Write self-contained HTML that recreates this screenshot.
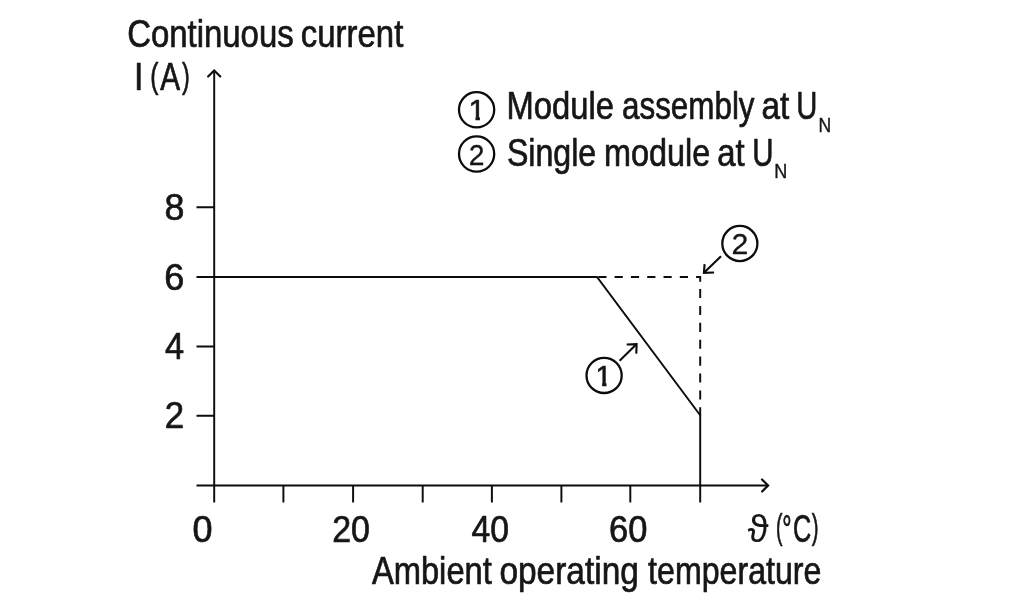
<!DOCTYPE html>
<html lang="en">
<head>
<meta charset="utf-8">
<title>Derating curve – Continuous current vs. ambient operating temperature</title>
<style>
  html, body { margin: 0; padding: 0; background: #ffffff; }
  body { width: 1024px; height: 608px; overflow: hidden; }
  svg { display: block; will-change: transform; }
  text { font-family: "Liberation Sans", sans-serif; fill: #161616; stroke: #161616; stroke-width: 0.7px; stroke-linejoin: round; }
  .ln { stroke: #0c0c0c; stroke-width: 1.95; fill: none; }
  .ah { stroke: #0c0c0c; stroke-width: 2.15; fill: none; stroke-linecap: round; stroke-linejoin: miter; }
  .ar { stroke: #0c0c0c; stroke-width: 2.1; fill: none; }
  .circ { stroke: #0c0c0c; stroke-width: 2.3; fill: none; }
  .t { font-size: 38.4px; }
  .d { font-size: 37.6px; }
  .p { font-size: 34.9px; }
  .c { font-size: 29px; stroke-width: 0.3px; }
  .c1 { font-size: 29.5px; stroke-width: 0.6px; }
  .th { stroke-width: 0.1px; }
  .s { font-size: 20.2px; stroke-width: 0.4px; }
</style>
</head>
<body>
<svg width="1024" height="608" viewBox="0 0 1024 608">
  <rect x="0" y="0" width="1024" height="608" fill="#ffffff"/>

  <defs>
    <clipPath id="one14"><path d="M467.2 94.1 H479.9 V122.1 H475.5 V117.0 H467.2 Z"/></clipPath>
    <clipPath id="one17"><path d="M594.1 359.9 H606.5 V387.9 H602.1 V382.8 H594.1 Z"/></clipPath>
  </defs>

  <g id="gfx">
  <!-- legend circles -->
  <circle class="circ" cx="476.6" cy="109.8" r="17.6"/>
  <circle class="circ" cx="476.6" cy="154" r="17.6"/>

  <!-- y axis with arrow -->
  <path class="ln" d="M214.2 70.5 V502.5"/>
  <path class="ah" d="M208.1 76.5 L214.2 70.4 L220.3 76.4"/>
  <!-- x axis with arrow -->
  <path class="ln" d="M196.5 485.45 H768.2"/>
  <path class="ah" d="M762 479.4 L768.1 485.45 L762.1 491.5"/>

  <!-- y ticks -->
  <path class="ln" d="M196.5 207.3 H214.2 M196.5 346.4 H214.2 M196.5 415.8 H214.2"/>
  <!-- x ticks -->
  <path class="ln" d="M283.4 485.5 V502.5 M353.1 485.5 V502.5 M422.7 485.5 V502.5 M491.9 485.5 V502.5 M561.4 485.5 V502.5 M630.3 485.5 V502.5"/>

  <!-- curve 1 (solid) -->
  <path class="ln" d="M196.5 277 H597 L700.2 415.2 V502.5"/>
  <!-- curve 2 (dashed) -->
  <path class="ln" stroke-dasharray="8.2 8.1" d="M598.3 277 H695"/>
  <path class="ln" d="M696.1 277 H700.2 V281.7"/>
  <path class="ln" stroke-dasharray="9.1 7.8" d="M700.2 289 V415.6"/>

  <!-- callout 2 -->
  <circle class="circ" cx="739.85" cy="243.5" r="17.55"/>
  <path class="ar" d="M721 256.3 L704.2 272.6"/>
  <path class="ar" d="M704.6 264.1 L703.9 272.9 L714.1 272.5"/>

  <!-- callout 1 -->
  <circle class="circ" cx="604.1" cy="375.4" r="17.6"/>
  <path class="ar" d="M619.6 360.8 L636.4 344.3"/>
  <path class="ar" d="M626.7 344.5 L636.6 344.1 L636.3 353.6"/>

  </g>

  <!-- all labels (each word positioned individually) -->
  <text class="t" y="47.0"><tspan x="127.16" textLength="166.54" lengthAdjust="spacingAndGlyphs">Continuous</tspan> <tspan x="300.87" textLength="102.43" lengthAdjust="spacingAndGlyphs">current</tspan></text>
  <text class="t" y="89.5"><tspan x="133.90" y="89.5" textLength="9.40" lengthAdjust="spacingAndGlyphs">I</tspan> <tspan class="p" x="150.30" y="87.9" textLength="8.20" lengthAdjust="spacingAndGlyphs">(</tspan><tspan x="160.27" y="89.5" textLength="19.82" lengthAdjust="spacingAndGlyphs">A</tspan><tspan class="p" x="181.94" y="87.9" textLength="7.76" lengthAdjust="spacingAndGlyphs">)</tspan></text>
  <text class="t" y="584.1"><tspan x="371.90" textLength="119.96" lengthAdjust="spacingAndGlyphs">Ambient</tspan> <tspan x="499.40" textLength="139.45" lengthAdjust="spacingAndGlyphs">operating</tspan> <tspan x="648.10" textLength="173.34" lengthAdjust="spacingAndGlyphs">temperature</tspan></text>
  <text class="t" y="541.5"><tspan class="th" x="747.86" y="541.5" textLength="20.81" lengthAdjust="spacingAndGlyphs">ϑ</tspan> <tspan class="p" x="775.93" y="539.1" textLength="6.51" lengthAdjust="spacingAndGlyphs">(</tspan><tspan x="782.19" y="541.5" textLength="9.32" lengthAdjust="spacingAndGlyphs">°</tspan><tspan x="792.97" y="541.5" textLength="18.24" lengthAdjust="spacingAndGlyphs">C</tspan><tspan class="p" x="811.82" y="539.1" textLength="6.79" lengthAdjust="spacingAndGlyphs">)</tspan></text>
  <text class="t" y="119.2"><tspan x="506.59" y="119.2" textLength="107.36" lengthAdjust="spacingAndGlyphs">Module</tspan> <tspan x="622.02" y="119.2" textLength="132.54" lengthAdjust="spacingAndGlyphs">assembly</tspan> <tspan x="761.52" y="119.2" textLength="27.84" lengthAdjust="spacingAndGlyphs">at</tspan> <tspan x="796.37" y="119.2" textLength="21.10" lengthAdjust="spacingAndGlyphs">U</tspan><tspan class="s" x="818.50" y="132.1" textLength="12.70" lengthAdjust="spacingAndGlyphs">N</tspan></text>
  <text class="t" y="165.7"><tspan x="506.91" y="165.7" textLength="89.34" lengthAdjust="spacingAndGlyphs">Single</tspan> <tspan x="604.00" y="165.7" textLength="106.30" lengthAdjust="spacingAndGlyphs">module</tspan> <tspan x="717.28" y="165.7" textLength="27.41" lengthAdjust="spacingAndGlyphs">at</tspan> <tspan x="752.21" y="165.7" textLength="21.24" lengthAdjust="spacingAndGlyphs">U</tspan><tspan class="s" x="774.19" y="177.6" textLength="13.03" lengthAdjust="spacingAndGlyphs">N</tspan></text>
  <text class="d" y="219.9"><tspan x="164.44" textLength="19.93" lengthAdjust="spacingAndGlyphs">8</tspan></text>
  <text class="d" y="289.8"><tspan x="164.21" textLength="20.03" lengthAdjust="spacingAndGlyphs">6</tspan></text>
  <text class="d" y="358.6"><tspan x="164.90" textLength="19.12" lengthAdjust="spacingAndGlyphs">4</tspan></text>
  <text class="d" y="428.3"><tspan x="164.81" textLength="19.37" lengthAdjust="spacingAndGlyphs">2</tspan></text>
  <text class="d" y="541.7"><tspan x="192.40" textLength="20.01" lengthAdjust="spacingAndGlyphs">0</tspan></text>
  <text class="d" y="541.7"><tspan x="332.16" textLength="37.77" lengthAdjust="spacingAndGlyphs">20</tspan></text>
  <text class="d" y="541.7"><tspan x="471.52" textLength="37.44" lengthAdjust="spacingAndGlyphs">40</tspan></text>
  <text class="d" y="541.7"><tspan x="609.02" textLength="38.31" lengthAdjust="spacingAndGlyphs">60</tspan></text>
  <text clip-path="url(#one14)" class="c1" y="120.1"><tspan x="468.58" textLength="16.89" lengthAdjust="spacingAndGlyphs">1</tspan></text>
  <text class="c" y="164.5"><tspan x="468.64" textLength="15.72" lengthAdjust="spacingAndGlyphs">2</tspan></text>
  <text class="c" y="254.3"><tspan x="731.62" textLength="16.86" lengthAdjust="spacingAndGlyphs">2</tspan></text>
  <text clip-path="url(#one17)" class="c1" y="385.9"><tspan x="595.60" textLength="16.21" lengthAdjust="spacingAndGlyphs">1</tspan></text>
</svg>
</body>
</html>
